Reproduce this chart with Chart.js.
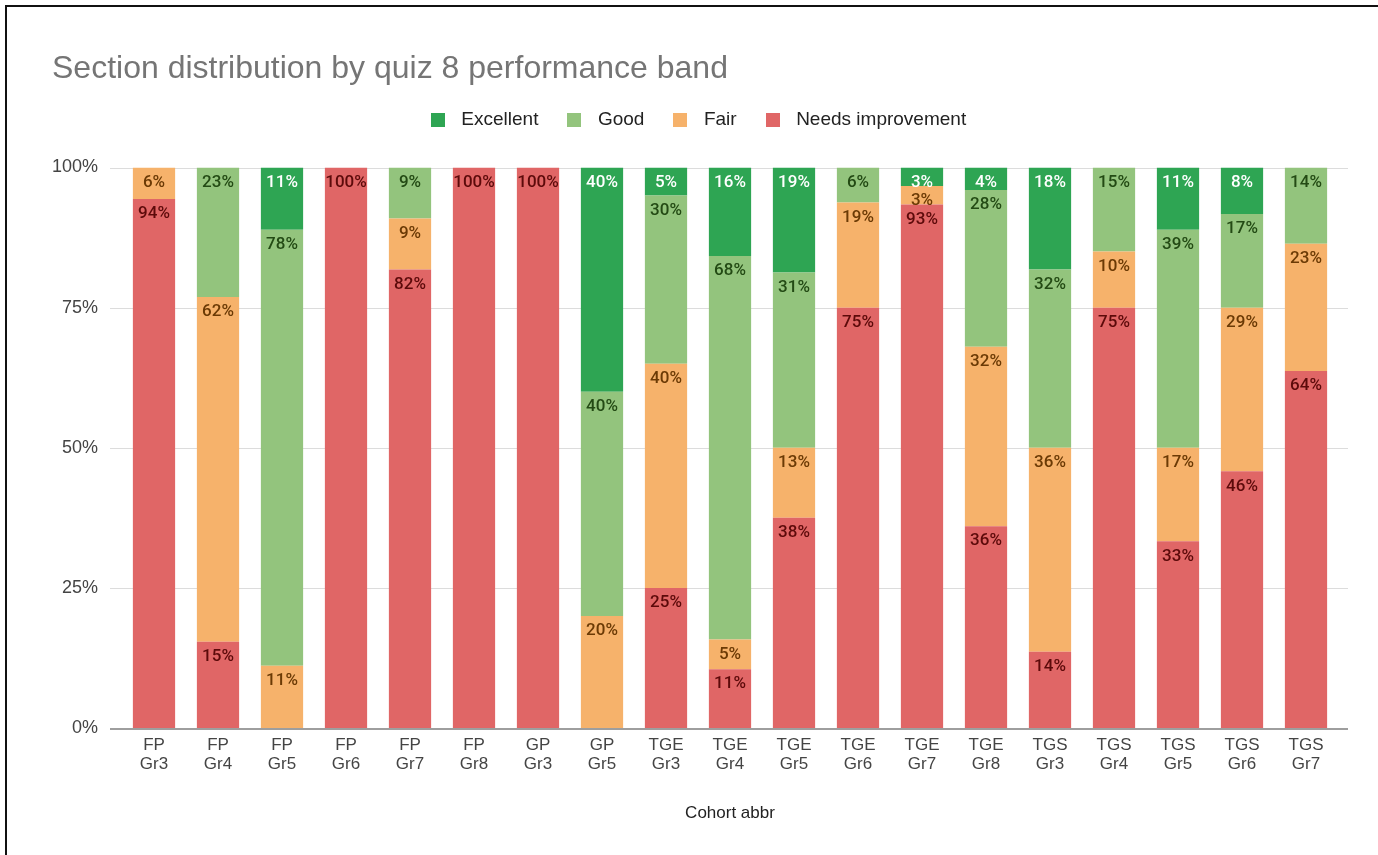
<!DOCTYPE html>
<html>
<head>
<meta charset="utf-8">
<title>Section distribution by quiz 8 performance band</title>
<script src="https://cdn.jsdelivr.net/npm/chart.js@4.4.1/dist/chart.umd.min.js"></script>
<style>
  html, body { margin: 0; padding: 0; background: #fff; }
  #wrap { position: relative; width: 1378px; height: 855px; overflow: hidden; }
  #chart { position: absolute; left: 0; top: 0; width: 1378px; height: 855px; }
  #frame { position: absolute; left: 5px; top: 5px; right: -10px; bottom: -10px;
           border-left: 2px solid #111; border-top: 2px solid #111; pointer-events: none; }
</style>
</head>
<body>
<div id="wrap">
  <canvas id="chart" width="1378" height="855"></canvas>
  <div id="frame"></div>
</div>
<script>
// cohorts on the x axis (two-line labels)
var categories = [
  ['FP', 'Gr3'], ['FP', 'Gr4'], ['FP', 'Gr5'], ['FP', 'Gr6'], ['FP', 'Gr7'], ['FP', 'Gr8'],
  ['GP', 'Gr3'], ['GP', 'Gr5'],
  ['TGE', 'Gr3'], ['TGE', 'Gr4'], ['TGE', 'Gr5'], ['TGE', 'Gr6'], ['TGE', 'Gr7'], ['TGE', 'Gr8'],
  ['TGS', 'Gr3'], ['TGS', 'Gr4'], ['TGS', 'Gr5'], ['TGS', 'Gr6'], ['TGS', 'Gr7']
];

// share of sections per band, in percent
var needsImprovement = [94.4, 15.4, 0, 100, 81.8, 100, 100, 0, 25, 10.5, 37.5, 75, 93.4, 36, 13.6, 75, 33.3, 45.8, 63.7];
var fair             = [5.6, 61.5, 11.1, 0, 9.1, 0, 0, 20, 40, 5.3, 12.5, 18.75, 3.3, 32, 36.4, 10, 16.7, 29.2, 22.7];
var good             = [0, 23.1, 77.8, 0, 9.1, 0, 0, 40, 30, 68.4, 31.25, 6.25, 0, 28, 31.8, 15, 38.9, 16.7, 13.6];
var excellent        = [0, 0, 11.1, 0, 0, 0, 0, 40, 5, 15.8, 18.75, 0, 3.3, 4, 18.2, 0, 11.1, 8.3, 0];

var yTicks = [0, 25, 50, 75, 100];

var bandNames  = ['Needs improvement', 'Fair', 'Good', 'Excellent'];
var bandColors = ['#e06666', '#f6b26b', '#93c47d', '#2ea553'];
var textColors = ['#5c0a0a', '#6b3a05', '#234a14', '#ffffff'];

var FONT = '"Liberation Sans", Arial, sans-serif';

// small square used as legend marker
function swatch(color) {
  var c = document.createElement('canvas');
  c.width = 14;
  c.height = 14;
  var g = c.getContext('2d');
  g.fillStyle = color;
  g.fillRect(0, 0, 14, 14);
  return c;
}

// gridlines run a little past the bars, labels sit at the top of each segment
var decorations = {
  id: 'decorations',
  beforeDatasetsDraw: function (chart) {
    var ctx = chart.ctx, y = chart.scales.y, area = chart.chartArea;
    ctx.save();
    ctx.strokeStyle = '#dcdcdc';
    ctx.lineWidth = 1;
    yTicks.forEach(function (v) {
      if (v === 0) return;
      var py = Math.round(y.getPixelForValue(v)) + 0.5;
      ctx.beginPath();
      ctx.moveTo(area.left - 12, py);
      ctx.lineTo(area.right + 10, py);
      ctx.stroke();
    });
    ctx.restore();
  },
  afterDatasetsDraw: function (chart) {
    var ctx = chart.ctx, y = chart.scales.y, area = chart.chartArea;
    ctx.save();
    ctx.strokeStyle = '#9e9e9e';
    ctx.lineWidth = 2;
    var base = Math.round(y.getPixelForValue(0)) + 1;
    ctx.beginPath();
    ctx.moveTo(area.left - 12, base);
    ctx.lineTo(area.right + 10, base);
    ctx.stroke();

    ctx.font = '500 17px Roboto, ' + FONT;
    ctx.textAlign = 'center';
    ctx.textBaseline = 'middle';
    chart.data.datasets.forEach(function (ds, i) {
      var meta = chart.getDatasetMeta(i);
      meta.data.forEach(function (bar, j) {
        var v = ds.data[j];
        if (!v) return;
        ctx.fillStyle = textColors[i];
        ctx.fillText(Math.round(v) + '%', bar.x, bar.y + 15);
      });
    });
    ctx.restore();
  }
};

var series = [needsImprovement, fair, good, excellent];
var datasets = [];
for (var i = 0; i < series.length; i++) {
  datasets.push({
    label: bandNames[i],
    data: series[i],
    backgroundColor: bandColors[i],
    borderWidth: 0,
    categoryPercentage: 1,
    barPercentage: 0.66
  });
}

var ctx = document.getElementById('chart').getContext('2d');
var myChart = new Chart(ctx, {
  type: 'bar',
  data: { labels: categories, datasets: datasets },
  plugins: [decorations],
  options: {
    responsive: false,
    animation: false,
    devicePixelRatio: 1,
    layout: { padding: { left: 52, right: 40, top: 0, bottom: 0 } },
    plugins: {
      tooltip: { enabled: false },
      title: {
        display: true,
        text: 'Section distribution by quiz 8 performance band',
        align: 'start',
        color: '#757575',
        font: { family: FONT, size: 32, weight: 'normal', lineHeight: '25px' },
        padding: { top: 56.5, bottom: 7 }
      },
      // empty spacer between the legend and the plot
      subtitle: {
        display: true,
        text: '',
        weight: 500,
        padding: 0,
        font: { size: 10, lineHeight: '28px' }
      },
      legend: {
        position: 'top',
        align: 'center',
        reverse: true,
        labels: {
          usePointStyle: true,
          pointStyleWidth: 28,
          boxHeight: 14,
          padding: 22,
          color: '#222',
          font: { family: FONT, size: 19 },
          generateLabels: function (chart) {
            var items = Chart.defaults.plugins.legend.labels.generateLabels(chart);
            items.forEach(function (it) {
              it.pointStyle = swatch(bandColors[it.datasetIndex]);
            });
            return items;
          }
        }
      }
    },
    scales: {
      x: {
        stacked: true,
        grid: { display: false, drawTicks: false },
        border: { display: false },
        ticks: {
          color: '#444',
          padding: 7.5,
          maxRotation: 0,
          autoSkip: false,
          font: { family: FONT, size: 17, lineHeight: '19px' }
        },
        title: {
          display: true,
          text: 'Cohort abbr',
          color: '#222',
          font: { family: FONT, size: 17 },
          padding: { top: 0, bottom: 31.8 }
        },
        afterFit: function (s) { s.height = 127; }
      },
      y: {
        stacked: true,
        min: 0,
        max: 100,
        grid: { display: false, drawTicks: false },
        border: { display: false },
        ticks: {
          stepSize: 25,
          color: '#444',
          padding: 24,
          font: { family: FONT, size: 18 },
          callback: function (v) { return v + '%'; }
        },
        afterFit: function (s) { s.width = 70; }
      }
    }
  }
});
</script>
</body>
</html>
